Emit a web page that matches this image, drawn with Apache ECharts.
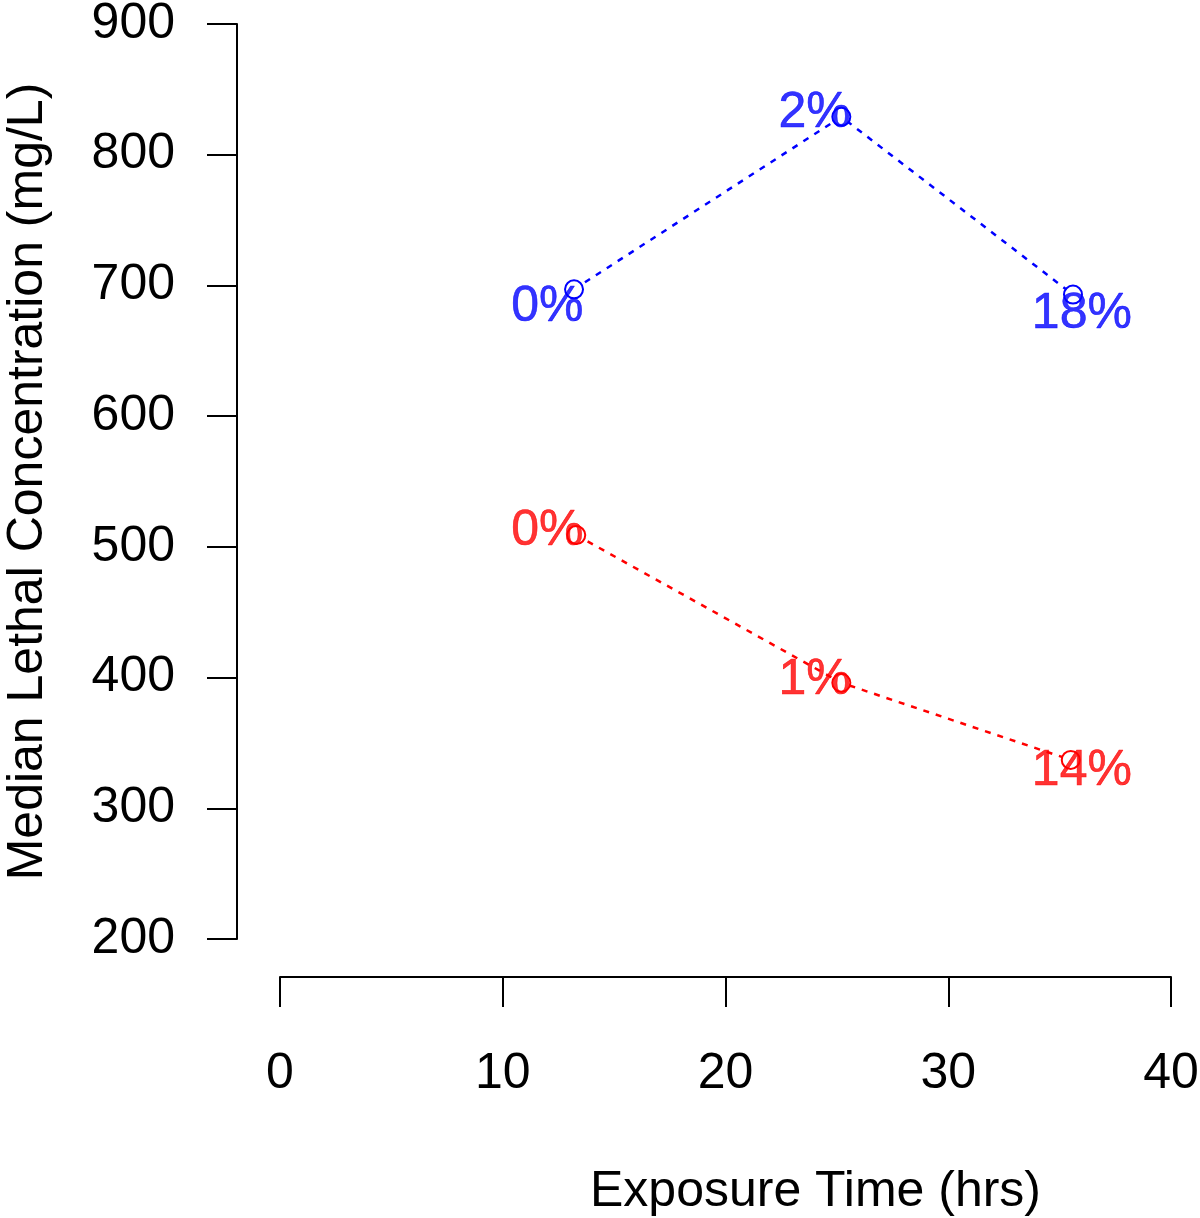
<!DOCTYPE html>
<html><head><meta charset="utf-8">
<script src="https://cdn.jsdelivr.net/npm/echarts@6/dist/echarts.min.js"></script>
<style>html,body{margin:0;padding:0;background:#fff}#c{width:1200px;height:1218px}</style>
</head><body><div id="c"></div>
<script>
// Data
const blueX = [13.2, 25.2, 35.6];
const blueY = [697, 829, 693];
const redX = [13.3, 25.2, 35.5];
const redY = [509, 396, 337];
const labelX = [12, 24, 36];
const blueLabelY = [683.5, 832, 678];
const redLabelY = [512, 398, 328.5];
const blueLabels = ['0%', '2%', '18%'];
const redLabels = ['0%', '1%', '14%'];

const FONT = 'Liberation Sans, Arial, Helvetica, sans-serif';
const FS = 50;
const pts = (xs, ys) => xs.map((x, i) => [x, ys[i]]);
const labs = (xs, ys, ls) => xs.map((x, i) => ({value: [x, ys[i]], name: ls[i]}));

const chart = echarts.init(document.getElementById('c'));
const lineSeries = (xs, ys, color) => ({
  type: 'line', data: pts(xs, ys), symbol: 'emptyCircle', symbolSize: 18, showSymbol: true,
  itemStyle: {color: color, borderColor: color, borderWidth: 2.5},
  lineStyle: {color: color, width: 2.5, type: [6, 7]},
  animation: false, z: 2
});
const labelSeries = (xs, ys, ls, color) => ({
  type: 'scatter', data: labs(xs, ys, ls), symbolSize: 1,
  itemStyle: {color: 'rgba(0,0,0,0)'},
  label: {show: true, position: 'inside', formatter: p => p.name,
    color: color, fontSize: FS, fontFamily: FONT, textBorderColor: color, textBorderWidth: 0.6},
  animation: false, z: 3, silent: true
});
chart.setOption({
  backgroundColor: '#fff',
  animation: false,
  grid: {left: 280, right: 29, top: 24, bottom: 279, containLabel: false, outerBoundsMode: 'none'},
  xAxis: {
    type: 'value', min: 0, max: 40, interval: 10, offset: 38,
    name: 'Exposure Time (hrs)', nameLocation: 'middle', nameGap: 190,
    nameTextStyle: {fontSize: FS, fontFamily: FONT, color: '#000', padding: [0, 0, 0, 180]},
    axisLine: {show: true, onZero: false, lineStyle: {color: '#000', width: 2}},
    axisTick: {show: true, inside: false, length: 30, lineStyle: {color: '#000', width: 2}},
    axisLabel: {margin: 72, fontSize: FS, fontFamily: FONT, color: '#000',
      showMinLabel: true, showMaxLabel: true},
    splitLine: {show: false}
  },
  yAxis: {
    type: 'value', min: 200, max: 900, interval: 100, offset: 43,
    name: 'Median Lethal Concentration (mg/L)', nameLocation: 'middle', nameGap: 184,
    nameMoveOverlap: false,
    nameTextStyle: {fontSize: FS, fontFamily: FONT, color: '#000'},
    axisLine: {show: true, onZero: false, lineStyle: {color: '#000', width: 2}},
    axisTick: {show: true, inside: false, length: 30, lineStyle: {color: '#000', width: 2}},
    axisLabel: {margin: 62, fontSize: FS, fontFamily: FONT, color: '#000'},
    splitLine: {show: false}
  },
  series: [
    lineSeries(blueX, blueY, '#0000FF'),
    lineSeries(redX, redY, '#FF0000'),
    labelSeries(labelX, blueLabelY, blueLabels, '#0000FF'),
    labelSeries(labelX, redLabelY, redLabels, '#FF0000')
  ]
});
</script></body></html>
